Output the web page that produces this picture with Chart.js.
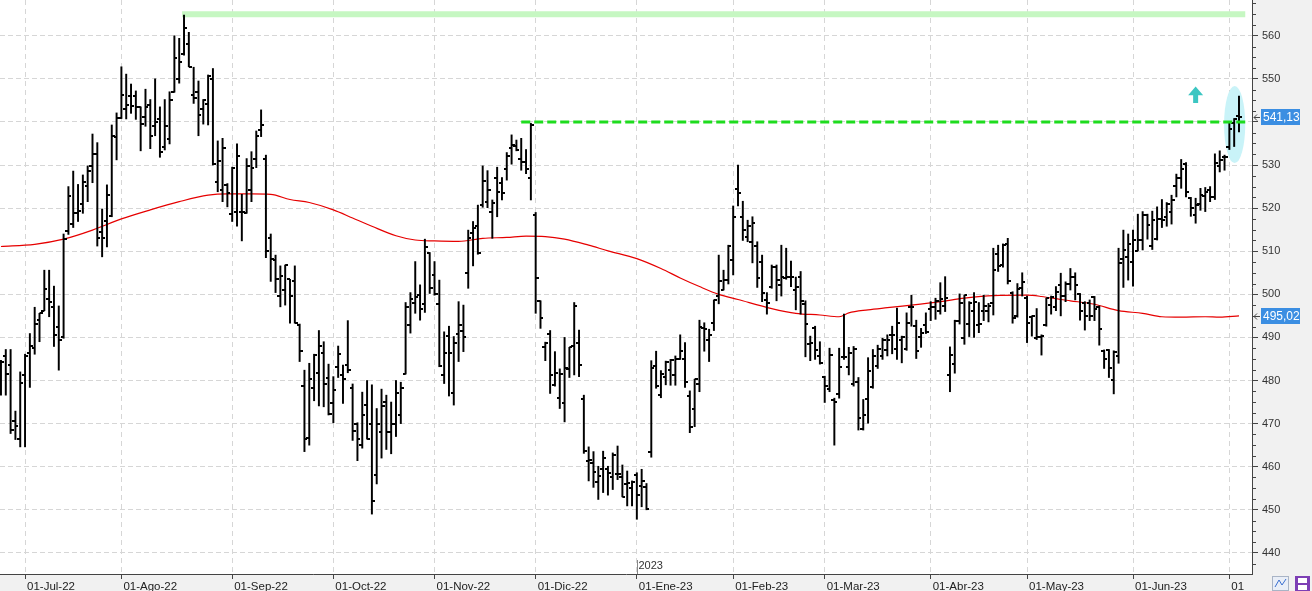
<!DOCTYPE html>
<html>
<head>
<meta charset="utf-8">
<title>Gráfico diario</title>
<script src="https://cdn.jsdelivr.net/npm/chart.js@4.4.1/dist/chart.umd.min.js"></script>
<style>
  html, body { margin: 0; padding: 0; background: #f1f1f1; }
  #wrap { width: 1312px; height: 591px; }
</style>
</head>
<body>
<div id="wrap"><canvas id="grafico" width="1312" height="591"></canvas></div>
<script>
// --- Datos (una barra por sesión, índice 0 = 24-jun-22) ---
const openP = [
  480.1, 485.8, 483.5, 470.6, 466.4, 481.3, 486.5, 487.6, 494.0, 496.2,
  499.0, 497.0, 492.4, 490.0, 514.8, 516.3, 518.8, 521.0, 525.1, 529.8,
  532.5, 514.5, 517.0, 518.2, 536.4, 541.0, 543.1, 546.0, 546.0, 543.4,
  541.2, 544.0, 539.0, 540.7, 534.1, 536.0, 546.9, 549.9, 555.7, 558.1,
  546.2, 547.0, 543.1, 544.2, 550.0, 526.0, 524.2, 525.4, 518.6, 519.0,
  519.2, 518.8, 524.2, 531.5, 538.1, 531.3, 513.0, 508.0, 499.6, 501.0,
  503.5, 503.0, 492.9, 478.7, 466.6, 478.2, 481.7, 486.3, 480.5, 474.7,
  483.2, 481.3, 483.6, 478.2, 470.0, 465.1, 474.3, 470.0, 458.0, 468.0,
  475.0, 468.0, 470.0, 472.0, 481.6, 492.9, 498.1, 499.8, 497.8, 509.7,
  504.4, 497.8, 481.3, 490.3, 477.0, 490.7, 491.6, 504.9, 514.3, 515.8,
  520.7, 521.5, 519.0, 526.9, 525.9, 529.0, 533.9, 534.4, 531.5, 530.8,
  527.1, 518.4, 498.5, 487.7, 490.8, 479.0, 475.9, 474.8, 482.7, 488.1,
  488.6, 475.6, 461.4, 460.8, 456.5, 459.4, 459.4, 457.5, 458.4, 457.5,
  456.0, 455.0, 458.0, 455.5, 455.2, 463.3, 483.4, 476.6, 480.7, 482.4,
  481.3, 485.1, 485.1, 476.4, 473.5, 479.3, 492.3, 489.5, 493.3, 499.5,
  501.1, 503.3, 508.0, 524.4, 517.9, 513.2, 512.2, 511.2, 507.6, 498.7,
  501.6, 506.4, 502.2, 503.7, 504.1, 501.1, 504.0, 497.8, 488.5, 492.1,
  485.7, 480.9, 478.0, 475.5, 476.9, 485.5, 483.2, 479.3, 479.7, 468.7,
  475.6, 478.6, 483.4, 485.7, 487.1, 490.6, 487.2, 489.4, 487.4, 497.1,
  492.6, 490.0, 492.8, 496.5, 497.0, 496.2, 497.3, 481.3, 483.8, 493.9,
  489.8, 493.1, 496.2, 492.9, 496.2, 496.2, 498.0, 509.4, 506.8, 511.7,
  500.4, 495.0, 501.4, 499.1, 494.7, 489.8, 490.2, 492.9, 497.5, 497.0,
  502.2, 499.6, 502.4, 504.1, 500.1, 498.1, 497.9, 499.3, 497.1, 486.9,
  487.1, 480.1, 485.7, 508.1, 508.7, 507.6, 510.1, 512.6, 518.4, 511.1,
  512.8, 517.4, 518.0, 519.2, 525.1, 527.0, 530.2, 522.3, 518.4, 521.0,
  522.8, 524.2, 522.5, 529.8, 531.9, 534.3, 539.8, 541.4
];
const highP = [
  484.7, 487.2, 487.2, 472.9, 482.0, 486.1, 490.9, 497.0, 495.6, 505.6,
  505.6, 501.9, 497.3, 514.0, 525.0, 528.6, 525.5, 527.7, 529.8, 537.2,
  535.2, 519.8, 525.4, 539.3, 542.1, 552.8, 551.1, 548.8, 547.2, 543.5,
  547.6, 545.2, 550.0, 543.5, 545.2, 547.0, 560.0, 559.4, 564.8, 560.8,
  552.7, 549.5, 545.2, 550.9, 552.4, 535.6, 536.2, 525.7, 529.5, 534.9,
  523.2, 531.5, 533.1, 537.9, 542.8, 532.3, 514.0, 509.1, 506.6, 506.8,
  503.5, 506.6, 493.1, 482.4, 484.0, 486.1, 491.6, 489.0, 483.8, 480.9,
  488.0, 483.6, 493.9, 479.2, 470.2, 477.3, 480.0, 479.0, 473.5, 478.0,
  476.6, 475.0, 480.0, 479.6, 498.1, 500.4, 507.6, 502.2, 512.8, 509.7,
  507.6, 503.3, 491.3, 492.6, 490.2, 498.3, 497.5, 514.9, 516.9, 520.7,
  529.8, 528.7, 521.9, 529.5, 527.1, 532.9, 537.0, 535.8, 536.2, 533.6,
  539.7, 519.0, 498.5, 488.9, 491.6, 486.7, 482.7, 490.0, 487.7, 498.1,
  491.7, 476.6, 464.6, 463.5, 460.1, 463.6, 460.1, 463.2, 464.8, 460.4,
  459.0, 456.7, 458.6, 459.4, 456.1, 484.6, 486.8, 482.3, 484.5, 484.9,
  485.7, 490.6, 488.8, 477.6, 480.3, 494.0, 493.4, 491.9, 498.7, 509.1,
  505.6, 511.4, 520.5, 530.0, 521.6, 517.2, 518.0, 512.2, 509.1, 500.4,
  506.8, 506.8, 511.4, 510.7, 507.7, 504.0, 505.3, 498.5, 490.3, 492.6,
  489.0, 481.0, 487.5, 475.9, 487.5, 495.4, 487.7, 487.9, 480.7, 475.6,
  485.3, 487.2, 488.2, 489.8, 490.6, 492.6, 496.8, 490.3, 495.7, 499.8,
  494.0, 492.1, 495.7, 498.3, 499.1, 502.7, 504.1, 487.8, 494.0, 500.1,
  499.8, 498.3, 500.4, 498.1, 499.8, 497.9, 510.7, 511.4, 511.7, 513.0,
  500.6, 502.5, 505.0, 499.6, 495.0, 496.7, 490.6, 499.1, 499.6, 501.8,
  504.9, 502.9, 506.0, 505.0, 500.2, 498.3, 498.7, 499.5, 497.3, 487.1,
  487.2, 486.9, 510.7, 514.9, 514.0, 514.9, 518.6, 519.2, 518.6, 519.3,
  520.3, 522.0, 521.3, 523.0, 527.9, 531.3, 530.6, 522.5, 522.3, 524.6,
  524.8, 525.0, 532.6, 533.3, 532.3, 539.7, 540.8, 546.0
];
const lowP = [
  476.6, 476.6, 467.7, 466.3, 464.6, 464.6, 478.4, 486.1, 489.0, 496.2,
  494.8, 487.9, 482.4, 489.8, 513.9, 515.5, 516.9, 518.8, 521.5, 525.9,
  511.2, 508.7, 511.0, 518.0, 531.2, 540.8, 540.7, 542.0, 540.6, 533.3,
  539.0, 533.8, 536.8, 531.8, 533.5, 534.9, 546.9, 549.0, 555.5, 552.8,
  544.3, 536.8, 539.5, 539.3, 530.0, 523.8, 521.5, 520.3, 516.9, 515.8,
  512.4, 518.8, 521.5, 529.4, 536.6, 508.5, 503.0, 500.4, 497.1, 497.5,
  493.3, 493.3, 484.4, 463.5, 465.0, 475.3, 474.1, 473.9, 472.0, 470.2,
  480.7, 474.7, 481.8, 466.1, 461.4, 464.3, 466.4, 449.0, 456.0, 462.0,
  464.0, 463.0, 467.0, 470.0, 481.5, 491.0, 495.6, 494.0, 495.8, 500.2,
  499.8, 483.2, 479.3, 476.4, 474.3, 484.4, 486.7, 501.4, 506.6, 509.3,
  520.2, 520.1, 513.0, 518.0, 521.9, 526.5, 530.2, 533.3, 528.8, 528.0,
  521.9, 495.6, 492.1, 484.6, 477.0, 478.7, 473.5, 470.4, 480.7, 481.3,
  480.9, 463.1, 456.7, 455.2, 452.4, 454.0, 453.4, 454.7, 457.0, 453.0,
  450.9, 450.9, 447.8, 450.7, 450.0, 462.2, 478.2, 476.0, 479.0, 478.9,
  478.9, 484.9, 478.4, 467.9, 469.3, 477.4, 486.8, 484.4, 491.6, 497.8,
  501.0, 502.4, 504.5, 520.5, 512.5, 512.2, 507.3, 501.6, 498.3, 495.4,
  501.4, 498.5, 499.6, 503.5, 501.8, 496.4, 495.4, 485.5, 484.6, 484.9,
  483.8, 474.9, 477.4, 465.0, 475.9, 484.9, 481.3, 478.7, 468.5, 468.5,
  470.1, 478.2, 482.8, 484.9, 485.7, 486.2, 484.9, 484.1, 487.0, 492.6,
  485.1, 487.7, 490.9, 493.9, 494.2, 495.4, 496.0, 477.4, 481.7, 493.1,
  488.4, 490.2, 490.0, 491.1, 493.9, 493.6, 495.2, 505.3, 506.3, 502.4,
  493.3, 494.7, 499.6, 488.8, 490.3, 489.5, 485.9, 492.6, 495.4, 496.2,
  495.0, 498.3, 501.0, 498.7, 494.0, 491.7, 493.9, 493.9, 488.2, 482.8,
  480.7, 476.9, 484.0, 501.6, 503.3, 501.9, 510.1, 510.3, 512.8, 510.4,
  512.6, 515.5, 515.8, 516.3, 522.6, 524.6, 522.6, 518.1, 516.5, 519.5,
  519.2, 521.5, 522.0, 528.4, 528.8, 533.6, 534.3, 537.7
];
const closeP = [
  484.4, 481.6, 468.5, 469.4, 479.5, 485.8, 488.0, 493.2, 495.6, 501.2,
  498.3, 490.5, 489.4, 512.8, 522.8, 518.8, 519.3, 526.0, 528.6, 532.5,
  513.0, 513.0, 523.0, 536.7, 541.0, 546.2, 544.0, 543.7, 543.5, 539.5,
  543.4, 536.7, 540.0, 533.0, 539.0, 545.1, 554.9, 554.0, 561.7, 552.8,
  545.5, 541.5, 545.0, 550.6, 530.2, 531.0, 533.9, 523.6, 529.2, 532.1,
  519.2, 529.8, 529.2, 536.7, 539.4, 510.0, 508.1, 503.5, 504.2, 506.7,
  499.6, 493.3, 486.8, 466.4, 480.3, 485.9, 487.9, 479.2, 472.2, 477.8,
  486.1, 480.3, 482.4, 468.3, 466.4, 472.0, 466.4, 452.0, 470.0, 474.0,
  468.0, 470.0, 477.0, 478.2, 497.0, 499.0, 499.3, 496.5, 510.9, 501.4,
  500.1, 483.4, 486.3, 486.3, 488.6, 492.9, 490.0, 513.0, 515.5, 509.7,
  526.4, 524.2, 521.3, 523.7, 523.4, 532.1, 534.6, 533.6, 530.8, 529.0,
  539.3, 503.9, 494.4, 488.6, 481.3, 481.8, 481.5, 483.0, 487.7, 497.3,
  483.6, 463.7, 461.5, 458.8, 457.8, 462.1, 458.6, 462.7, 458.3, 453.0,
  456.3, 456.5, 453.4, 456.7, 450.1, 482.8, 478.7, 481.5, 484.4, 484.8,
  485.1, 486.8, 479.7, 469.3, 480.3, 492.5, 491.9, 490.5, 498.7, 503.1,
  503.3, 511.1, 518.0, 523.6, 515.0, 515.8, 516.6, 503.7, 500.4, 497.9,
  506.4, 503.3, 504.1, 504.1, 504.1, 501.8, 498.5, 493.1, 488.6, 487.1,
  484.0, 478.7, 486.0, 475.0, 483.2, 485.4, 486.3, 487.2, 471.2, 472.0,
  482.2, 485.7, 487.2, 489.4, 489.4, 490.6, 493.4, 490.0, 493.4, 497.1,
  486.9, 491.1, 491.3, 497.1, 498.5, 498.8, 499.1, 485.9, 493.9, 497.9,
  499.8, 498.1, 498.3, 493.1, 497.3, 497.3, 505.6, 506.6, 511.4, 503.2,
  494.4, 501.2, 502.9, 493.4, 495.0, 490.2, 490.3, 499.1, 499.3, 500.6,
  499.6, 502.4, 504.0, 502.2, 496.2, 495.0, 495.0, 496.5, 491.9, 484.9,
  482.8, 486.7, 507.3, 510.3, 511.7, 512.6, 512.6, 518.4, 516.1, 517.2,
  517.4, 517.2, 521.0, 522.0, 527.1, 529.0, 523.8, 520.0, 520.8, 523.1,
  523.8, 522.6, 530.4, 531.2, 531.8, 538.3, 540.6, 541.13
];

const mediaIdx = [0, 7, 13, 19, 25, 31, 37, 43, 47, 52, 56, 60, 64, 69, 73, 77, 82, 86, 90, 95,
  100, 105, 109, 113, 117, 122, 126, 132, 137, 141, 145, 149, 153, 160, 165, 170, 174, 176, 180, 184,
  189, 195, 200, 206, 213, 216, 220, 222, 227, 232, 237, 241, 245, 250, 253, 257];
const mediaVal = [511.1, 511.6, 512.8, 514.9, 517.5, 519.6, 521.5, 523.0, 523.3, 523.3, 523.2, 522.0, 521.3, 519.6, 517.7, 515.8, 513.6, 512.6, 512.4, 512.3,
  513.0, 513.2, 513.5, 513.4, 512.8, 511.4, 510.1, 508.3, 506.0, 503.8, 501.8, 500.0, 498.8, 496.7, 495.6, 495.2, 494.8, 495.7, 496.4, 496.9,
  497.5, 498.3, 499.1, 499.7, 499.8, 499.5, 498.8, 498.5, 497.7, 496.2, 495.6, 494.8, 494.7, 494.8, 494.7, 495.02];

// eje X: primera sesión de cada mes
const monthIdx = [5, 25, 48, 69, 90, 111, 132, 152, 171, 193, 213, 235, 255];
const monthLabels = ['01-Jul-22', '01-Ago-22', '01-Sep-22', '01-Oct-22', '01-Nov-22', '01-Dic-22',
  '01-Ene-23', '01-Feb-23', '01-Mar-23', '01-Abr-23', '01-May-23', '01-Jun-23', '01'];
const yearIdx = [132];
const yearLabels = ['2023'];
const yTicks = [440, 450, 460, 470, 480, 490, 500, 510, 520, 530, 540, 550, 560];

// niveles dibujados
const maxLevel = 565;      // máximo anual (verde claro)
const maxFrom = 37.6;
const breakLevel = 540;    // resistencia (verde discontinua)
const breakFrom = 108;
const levelTo = 258.3;

// anotaciones: elipse y flecha
const elipseIdx = 256.1, elipseAncho = 2.2, elipseCentro = 539.4, elipseAlto = 8.95;
const flechaIdx = 248, flechaTop = 548.2, flechaBase = 546.2, flechaPie = 544.4;

// --- marcas de apertura / cierre ---
function makeMark(lado) {
  const c = document.createElement('canvas');
  c.width = 6; c.height = 2;
  const g = c.getContext('2d');
  g.fillStyle = '#000';
  g.fillRect(lado === 'izq' ? 0 : 3, 0, 3, 2);
  return c;
}
const openMark = makeMark('izq');
const closeMark = makeMark('der');

const fmt = v => v.toFixed(2).replace('.', ',');

// --- plugins de dibujo ---
const fondo = {
  id: 'fondo',
  beforeDraw(chart) {
    const {ctx, chartArea: a} = chart;
    ctx.save();
    ctx.fillStyle = '#f1f1f1';
    ctx.fillRect(0, 0, chart.width, chart.height);
    ctx.fillStyle = '#ffffff';
    ctx.fillRect(a.left, a.top, a.right - a.left, a.bottom - a.top);
    ctx.restore();
  },
  beforeDatasetsDraw(chart) {
    const {ctx, scales: {x, y}} = chart;
    const cx = x.getPixelForValue(elipseIdx);
    const rx = x.getPixelForValue(elipseIdx + elipseAncho) - cx;
    const cy = y.getPixelForValue(elipseCentro);
    const ry = y.getPixelForValue(elipseCentro - elipseAlto) - cy;
    ctx.save();
    ctx.fillStyle = '#c9f3f8';
    ctx.beginPath();
    ctx.ellipse(cx, cy, rx, ry, 0, 0, Math.PI * 2);
    ctx.fill();
    ctx.restore();
  },
  afterDatasetsDraw(chart) {
    // flecha turquesa
    const {ctx, scales: {x, y}} = chart;
    const ax = x.getPixelForValue(flechaIdx);
    const yt = y.getPixelForValue(flechaTop);
    const yb = y.getPixelForValue(flechaBase);
    const yp = y.getPixelForValue(flechaPie);
    ctx.save();
    ctx.fillStyle = '#3cc6c2';
    ctx.beginPath();
    ctx.moveTo(ax, yt);
    ctx.lineTo(ax + 7.5, yb);
    ctx.lineTo(ax + 2.5, yb);
    ctx.lineTo(ax + 2.5, yp);
    ctx.lineTo(ax - 2.5, yp);
    ctx.lineTo(ax - 2.5, yb);
    ctx.lineTo(ax - 7.5, yb);
    ctx.closePath();
    ctx.fill();
    ctx.restore();
  },
  afterDraw(chart) {
    const {ctx, chartArea: a, scales: {x, y}} = chart;
    ctx.save();
    // marcas menores del eje Y
    ctx.strokeStyle = '#444';
    ctx.lineWidth = 1;
    for (let v = 437.5; v < 568; v += 2.5) {
      if (v % 10 === 0) continue;
      const py = Math.round(y.getPixelForValue(v)) + 0.5;
      ctx.beginPath();
      ctx.moveTo(a.right, py);
      ctx.lineTo(a.right + 4, py);
      ctx.stroke();
    }
    // separador de año
    ctx.font = "11px 'Liberation Sans', Arial, sans-serif";
    ctx.textBaseline = 'middle';
    yearIdx.forEach((idx, k) => {
      const px = Math.round(x.getPixelForValue(idx)) + 0.5;
      ctx.strokeStyle = '#888';
      ctx.beginPath();
      ctx.moveTo(px, a.bottom - 14);
      ctx.lineTo(px, a.bottom);
      ctx.stroke();
      ctx.fillStyle = '#333';
      ctx.fillText(yearLabels[k], px + 1, a.bottom - 8);
    });
    // cajas de valor en el eje derecho
    const cajas = [closeP[closeP.length - 1], mediaVal[mediaVal.length - 1]];
    cajas.forEach(v => {
      const py = Math.round(y.getPixelForValue(v));
      ctx.fillStyle = '#3b8ee2';
      ctx.fillRect(a.right + 9, py - 8, 39, 16);
      ctx.fillStyle = '#fff';
      ctx.font = "12px 'Liberation Sans', Arial, sans-serif";
      ctx.textBaseline = 'middle';
      ctx.fillText(fmt(v), a.right + 11, py + 0.5);
      ctx.strokeStyle = '#444';
      ctx.beginPath();
      ctx.moveTo(a.right + 2, py + 0.5);
      ctx.lineTo(a.right + 8, py + 0.5);
      ctx.moveTo(a.right + 5, py - 2.5);
      ctx.lineTo(a.right + 2, py + 0.5);
      ctx.lineTo(a.right + 5, py + 3.5);
      ctx.stroke();
    });
    // iconos inferiores
    const iy = a.bottom + 2;
    ctx.fillStyle = '#e9eef7';
    ctx.fillRect(1272, iy, 17, 15);
    ctx.strokeStyle = '#a9b4c6';
    ctx.strokeRect(1272.5, iy + 0.5, 16, 14);
    ctx.strokeStyle = '#3a6fd0';
    ctx.beginPath();
    ctx.moveTo(1275, iy + 11); ctx.lineTo(1279, iy + 4); ctx.lineTo(1282, iy + 9); ctx.lineTo(1286, iy + 3);
    ctx.stroke();
    ctx.fillStyle = '#7d3fb5';
    ctx.fillRect(1295, iy, 15, 15);
    ctx.fillStyle = '#fff';
    ctx.fillRect(1298, iy + 2, 9, 5);
    ctx.fillRect(1298, iy + 9, 9, 5);
    ctx.restore();
  }
};

Chart.defaults.font.family = "'Liberation Sans', Arial, sans-serif";

const puntos = arr => arr.map((v, i) => ({x: i, y: v}));

new Chart(document.getElementById('grafico'), {
  type: 'scatter',
  data: {
    datasets: [
      {
        type: 'line',
        data: [{x: maxFrom, y: maxLevel}, {x: levelTo, y: maxLevel}],
        borderColor: '#c6f7c2',
        borderWidth: 6,
        pointRadius: 0,
        order: 10
      },
      {
        type: 'line',
        data: mediaIdx.map((i, k) => ({x: i, y: mediaVal[k]})),
        borderColor: '#e60000',
        borderWidth: 1.2,
        cubicInterpolationMode: 'monotone',
        pointRadius: 0,
        order: 6
      },
      {
        type: 'bar',
        data: highP.map((h, i) => ({x: i, y: [lowP[i], h]})),
        backgroundColor: '#000',
        barThickness: 1.3,
        grouped: false,
        order: 4
      },
      {
        data: puntos(openP),
        pointStyle: openMark,
        pointRadius: 2,
        order: 3
      },
      {
        data: puntos(closeP),
        pointStyle: closeMark,
        pointRadius: 2,
        order: 3
      },
      {
        type: 'line',
        data: [{x: breakFrom, y: breakLevel}, {x: levelTo, y: breakLevel}],
        borderColor: '#1edc1e',
        borderWidth: 3,
        borderDash: [9, 4],
        pointRadius: 0,
        order: 1
      }
    ]
  },
  options: {
    responsive: false,
    animation: false,
    devicePixelRatio: 1,
    layout: { padding: 0, autoPadding: false },
    plugins: {
      legend: { display: false },
      tooltip: { enabled: false }
    },
    scales: {
      x: {
        type: 'linear',
        position: 'bottom',
        min: -0.2,
        max: 259.7,
        offset: false,
        afterBuildTicks: axis => { axis.ticks = monthIdx.map(v => ({value: v})); },
        afterFit: scale => { scale.height = 17; scale.paddingLeft = 0; scale.paddingRight = 0; },
        ticks: {
          autoSkip: false,
          maxRotation: 0,
          align: 'start',
          labelOffset: 2,
          padding: 1,
          color: '#222',
          font: { size: 11.5 },
          callback: (v, i) => monthLabels[i]
        },
        grid: { color: '#d6d6d6', tickColor: '#444', tickLength: 5, offset: false },
        border: { color: '#444', dash: [5, 4] }
      },
      y: {
        type: 'linear',
        position: 'right',
        min: 435.1,
        max: 568.3,
        beginAtZero: false,
        afterBuildTicks: axis => { axis.ticks = yTicks.map(v => ({value: v})); },
        afterFit: scale => { scale.width = 60; scale.paddingTop = 0; scale.paddingBottom = 0; },
        ticks: {
          padding: 4,
          color: '#333',
          font: { size: 11 },
          callback: v => v
        },
        grid: { color: '#d6d6d6', tickColor: '#444', tickLength: 6 },
        border: { color: '#444', dash: [5, 3] }
      }
    }
  },
  plugins: [fondo]
});
</script>
</body>
</html>
